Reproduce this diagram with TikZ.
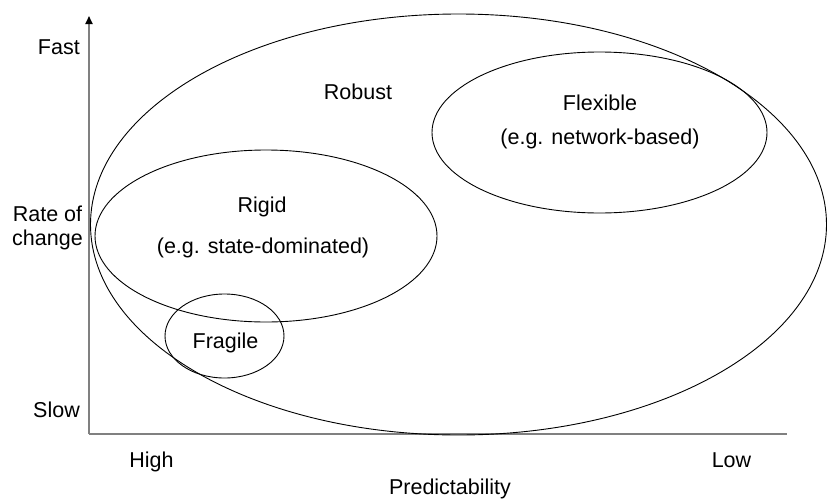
\documentclass[tikz,border=0pt]{standalone}
\usepackage{fontspec}
\setmainfont{Liberation Sans}
\usetikzlibrary{shapes.geometric,arrows.meta}

\begin{document}
\begin{tikzpicture}[x=1pt,y=-1pt]
\tikzset{
  region/.style={ellipse, draw, line width=0.9pt, inner sep=0pt},
  axis/.style={draw=gray, line width=1.8pt},
  lbl/.style={font=\fontsize{21.5}{23.5}\selectfont, align=center, anchor=base, inner sep=0pt}
}
\useasboundingbox (0,0) rectangle (827,498);
% axes
\coordinate (origin) at (89,434);
\coordinate (ytop) at (89,16);
\coordinate (xend) at (787,434);
\draw[axis, -{Triangle[length=8pt,width=7pt,color=black]}] (origin) -- (ytop);
\draw[axis] (origin) -- (xend);
% regions
\node[region, minimum width=736pt, minimum height=421pt] (robust) at (458.5,224.5){};
\node[region, minimum width=342pt, minimum height=172pt] (rigid) at (266,236){};
\node[region, minimum width=335pt, minimum height=161pt] (flexible) at (599.5,132.5){};
\node[region, minimum width=119pt, minimum height=84pt] (fragile) at (224.5,336){};
% region labels
\node[lbl] (robustlbl) at (358,99){Robust};
\node[lbl] (rigidlbl) at (262,212){Rigid};
\node[lbl] (rigidex) at (263,253){(e.g. state-dominated)};
\node[lbl] (flexlbl) at (600,110){Flexible};
\node[lbl] (flexex) at (600,144){(e.g. network-based)};
\node[lbl] (fragilelbl) at (225.5,348){Fragile};
% axis labels
\node[lbl, anchor=base east] (fast) at (80,54){Fast};
\node[lbl, anchor=base] (rate) at (47.5,245){Rate of\\change};
\node[lbl, anchor=base east] (slow) at (80,417){Slow};
\node[lbl] (high) at (151.5,467){High};
\node[lbl] (low) at (731.5,467){Low};
\node[lbl] (pred) at (450,494){Predictability};
\end{tikzpicture}
\end{document}
